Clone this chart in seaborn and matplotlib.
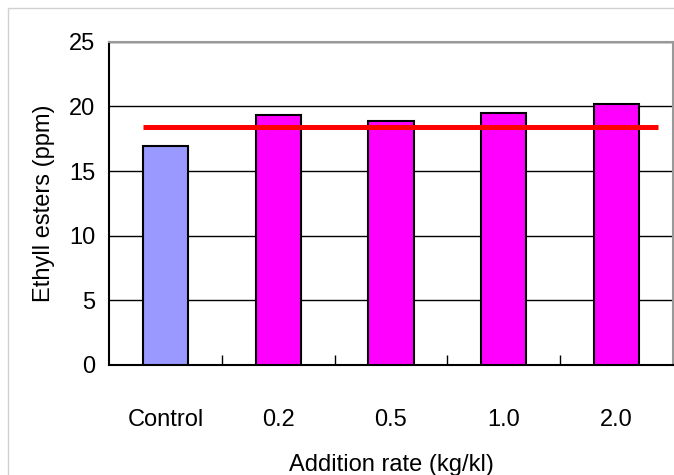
import matplotlib
matplotlib.use("Agg")
import matplotlib.pyplot as plt
import matplotlib.patches as mpatches
import seaborn as sns
import pandas as pd

# Ethyl ester levels by addition rate
categories = ["Control", "0.2", "0.5", "1.0", "2.0"]
esters_ppm = [16.9, 19.3, 18.9, 19.5, 20.2]
reference_level = 18.4
bar_colors = ["#9999FF", "#FF00FF", "#FF00FF", "#FF00FF", "#FF00FF"]
y_ticks = [0, 5, 10, 15, 20, 25]

sns.set_theme(style="white")
plt.rcParams["font.family"] = ["Liberation Sans", "DejaVu Sans"]
plt.rcParams["text.color"] = "black"
plt.rcParams["axes.labelcolor"] = "black"
plt.rcParams["xtick.color"] = "black"
plt.rcParams["ytick.color"] = "black"

df = pd.DataFrame({"rate": categories, "esters": esters_ppm})

fig = plt.figure(figsize=(6.74, 4.75), dpi=100)
ax = fig.add_axes([0.1617, 0.2316, 0.8368, 0.6806])

sns.barplot(data=df, x="rate", y="esters", hue="rate", palette=bar_colors,
            legend=False, width=0.4, edgecolor="black", linewidth=1.5,
            saturation=1, ax=ax, zorder=3)

# horizontal reference line across the bars
ax.plot([-0.2, 4.37], [reference_level, reference_level], color="#FF0000",
        linewidth=3.6, solid_capstyle="butt", zorder=4)

ax.set_xlim(-0.5, 4.5)
ax.set_ylim(0, 25)
ax.set_yticks(y_ticks)
ax.yaxis.grid(True, color="black", linewidth=1.0, zorder=0)
ax.set_axisbelow(True)

ax.set_xticks(range(len(categories)))
ax.set_xticklabels(categories)
ax.set_xticks([0.5, 1.5, 2.5, 3.5], minor=True)
ax.tick_params(axis="x", which="major", length=0, pad=32, labelsize=17)
ax.tick_params(axis="x", which="minor", direction="in", length=7, width=1,
               color="black", bottom=True)
ax.tick_params(axis="y", length=0, pad=10, labelsize=17)

ax.set_xlabel("Addition rate (kg/kl)", fontsize=17, labelpad=16)
ax.set_ylabel("Ethyll esters (ppm)", fontsize=17, labelpad=10)

for side in ["left", "bottom"]:
    ax.spines[side].set_color("black")
    ax.spines[side].set_linewidth(1.5)
for side in ["top", "right"]:
    ax.spines[side].set_color("#999999")
    ax.spines[side].set_linewidth(1.5)

# light frame around the slide area
fig.add_artist(mpatches.Rectangle((8 / 674, -0.1), 1.2, 1 - 8 / 475 + 0.1,
                                  transform=fig.transFigure, fill=False,
                                  edgecolor="#D0D0D0", linewidth=1.0))

fig.savefig("out.png", dpi=100)
